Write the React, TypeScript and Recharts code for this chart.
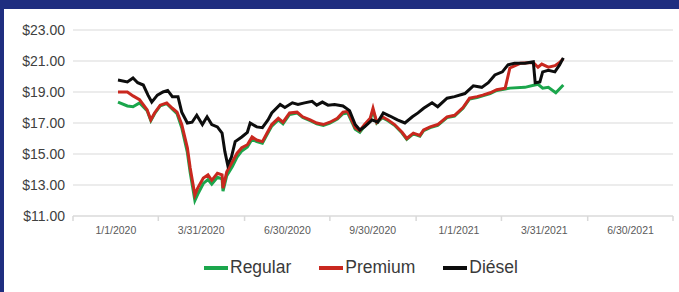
import React from 'react';
import { LineChart, Line, XAxis, YAxis, CartesianGrid } from 'recharts';

// x axis: days since 1/1/2020; labels sit between the quarter edges
const quarterLabels = ['1/1/2020', '3/31/2020', '6/30/2020', '9/30/2020', '1/1/2021', '3/31/2021', '6/30/2021'];
const quarterEdges = [-48, 43, 135, 226, 318, 409, 501, 592];
const priceTicks = [11, 13, 15, 17, 19, 21, 23];

// [day, price per gallon]
const regular: [number, number][] = [
  [0, 18.35], [10, 18.1], [16, 18.05], [23, 18.3], [31, 17.8], [35, 17.15], [39, 17.6], [45, 18.1],
  [52, 18.25], [58, 17.9], [63, 17.6], [68, 16.7], [74, 15.1], [77, 13.8], [82, 12.0], [85, 12.4],
  [91, 13.1], [96, 13.35], [100, 13.05], [106, 13.5], [111, 13.4], [112, 12.6], [116, 13.6], [122, 14.2],
  [127, 14.8], [132, 15.2], [138, 15.45], [143, 15.95], [148, 15.8], [154, 15.7], [159, 16.25], [164, 16.8],
  [171, 17.2], [176, 16.95], [183, 17.55], [191, 17.65], [197, 17.35], [205, 17.15], [212, 16.95], [219, 16.85],
  [226, 17.0], [234, 17.25], [240, 17.6], [245, 17.65], [253, 16.6], [258, 16.4], [263, 16.8], [269, 17.2],
  [272, 17.8], [276, 17.0], [282, 17.35], [288, 17.15], [295, 16.85], [303, 16.35], [308, 15.95], [315, 16.3],
  [322, 16.15], [326, 16.5], [333, 16.7], [341, 16.85], [351, 17.35], [359, 17.45], [368, 17.95], [375, 18.55],
  [383, 18.65], [389, 18.75], [397, 18.9], [404, 19.1], [413, 19.2], [418, 19.25], [434, 19.3], [448, 19.5],
  [453, 19.25], [459, 19.3], [467, 18.95], [475, 19.45],
];

const premium: [number, number][] = [
  [0, 19.0], [10, 19.0], [16, 18.75], [23, 18.5], [31, 17.85], [35, 17.2], [39, 17.65], [45, 18.15],
  [52, 18.3], [58, 17.95], [63, 17.7], [68, 16.9], [74, 15.4], [77, 14.1], [82, 12.35], [85, 12.8],
  [91, 13.45], [96, 13.65], [100, 13.3], [106, 13.75], [111, 13.65], [112, 12.8], [116, 13.85], [122, 14.5],
  [127, 15.05], [132, 15.4], [138, 15.6], [143, 16.1], [148, 15.9], [154, 15.8], [159, 16.35], [164, 16.9],
  [171, 17.3], [176, 17.05], [183, 17.65], [191, 17.7], [197, 17.4], [205, 17.2], [212, 17.0], [219, 16.9],
  [226, 17.05], [234, 17.3], [240, 17.7], [245, 17.75], [253, 16.7], [258, 16.5], [263, 16.9], [269, 17.3],
  [272, 17.95], [276, 17.05], [282, 17.4], [288, 17.2], [295, 16.9], [303, 16.4], [308, 16.0], [315, 16.35],
  [322, 16.2], [326, 16.55], [333, 16.75], [341, 16.9], [351, 17.4], [359, 17.5], [368, 18.0], [375, 18.6],
  [383, 18.7], [389, 18.8], [397, 18.95], [404, 19.15], [413, 19.25], [418, 20.55], [420, 20.6], [429, 20.85],
  [443, 20.9], [448, 20.6], [452, 20.8], [459, 20.6], [466, 20.7], [471, 20.9], [475, 21.15],
];

const diesel: [number, number][] = [
  [0, 19.77], [10, 19.65], [16, 19.9], [21, 19.6], [27, 19.45], [32, 18.8], [36, 18.35], [42, 18.8],
  [48, 19.0], [53, 19.1], [58, 18.7], [64, 18.7], [68, 17.7], [74, 17.0], [79, 17.05], [84, 17.5],
  [90, 16.9], [95, 17.4], [100, 16.9], [106, 16.75], [111, 16.35], [114, 15.15], [117, 14.3], [121, 14.8],
  [125, 15.8], [132, 16.1], [138, 16.4], [141, 17.0], [148, 16.75], [154, 16.7], [160, 17.2], [164, 17.65],
  [173, 18.2], [178, 18.0], [186, 18.3], [192, 18.2], [199, 18.3], [207, 18.4], [212, 18.15], [218, 18.35],
  [224, 18.15], [231, 18.2], [240, 18.1], [247, 17.8], [253, 16.9], [258, 16.55], [263, 16.75], [271, 17.2],
  [277, 17.05], [283, 17.65], [290, 17.45], [298, 17.2], [306, 17.0], [314, 17.4], [320, 17.65], [326, 17.95],
  [335, 18.3], [341, 18.05], [351, 18.6], [359, 18.7], [370, 18.9], [379, 19.4], [388, 19.3], [395, 19.6],
  [402, 20.1], [410, 20.3], [416, 20.75], [423, 20.85], [434, 20.85], [443, 20.95], [445, 19.6], [450, 19.65],
  [453, 20.3], [459, 20.4], [466, 20.3], [471, 20.75], [475, 21.2],
];

const series = [
  { name: 'Regular', color: '#1ba64c', data: regular },
  { name: 'Premium', color: '#c9281f', data: premium },
  { name: 'Diésel', color: '#0d0d0d', data: diesel },
];

const W = 675;
const H = 283;
const margin = { top: 21, right: 6, bottom: 0, left: 9 };
const Y_AXIS_W = 60;
const X_AXIS_H = 76;
const halfStep = (W - margin.left - margin.right - Y_AXIS_W) / (quarterEdges.length - 1) / 2;
const font = '"Liberation Sans", Arial, sans-serif';

const QuarterTick = (props: any) => {
  const { x, y, index } = props;
  const label = quarterLabels[index];
  return (
    <g>
      <line x1={x} x2={x} y1={y} y2={y + 5} stroke="#d9d9d9" strokeWidth={1.5} />
      {label && (
        <text x={x + halfStep} y={y + 18} textAnchor="middle" fontSize={10.5} fill="#5a5a5a" fontFamily={font}>
          {label}
        </text>
      )}
    </g>
  );
};

export default function App() {
  return (
    <div style={{ position: 'absolute', left: 0, top: 0, width: 679, height: 292, background: '#1f2e80', overflow: 'hidden' }}>
      <div style={{ position: 'absolute', left: 4, top: 9, width: W, height: H, background: '#ffffff' }}>
        <LineChart width={W} height={H} margin={margin}>
          <CartesianGrid vertical={false} stroke="#d9d9d9" strokeWidth={1.2} />
          <XAxis
            dataKey="day"
            type="number"
            domain={[quarterEdges[0], quarterEdges[quarterEdges.length - 1]]}
            ticks={quarterEdges}
            interval={0}
            height={X_AXIS_H}
            axisLine={{ stroke: '#d9d9d9', strokeWidth: 1.2 }}
            tickLine={false}
            tickSize={0}
            tickMargin={0}
            tick={<QuarterTick />}
            allowDataOverflow
          />
          <YAxis
            type="number"
            domain={[11, 23]}
            ticks={priceTicks}
            interval={0}
            width={Y_AXIS_W}
            axisLine={false}
            tickLine={false}
            tickFormatter={(v: number) => `$${v.toFixed(2)}`}
            tick={{ fontSize: 14, fill: '#404040', fontFamily: font }}
          />
          {series.map((s) => (
            <Line
              key={s.name}
              data={s.data.map(([day, price]) => ({ day, price }))}
              dataKey="price"
              name={s.name}
              type="linear"
              stroke={s.color}
              strokeWidth={3}
              dot={false}
              activeDot={false}
              isAnimationActive={false}
            />
          ))}
        </LineChart>
        <div
          style={{
            position: 'absolute',
            left: 200,
            top: 248,
            display: 'flex',
            alignItems: 'center',
            gap: 28,
            fontFamily: font,
            fontSize: 17.5,
            color: '#3a3a3a',
          }}
        >
          {series.map((s) => (
            <div key={s.name} style={{ display: 'flex', alignItems: 'center' }}>
              <span style={{ display: 'inline-block', width: 24, height: 4, background: s.color, marginRight: 2 }} />
              <span>{s.name}</span>
            </div>
          ))}
        </div>
      </div>
    </div>
  );
}
